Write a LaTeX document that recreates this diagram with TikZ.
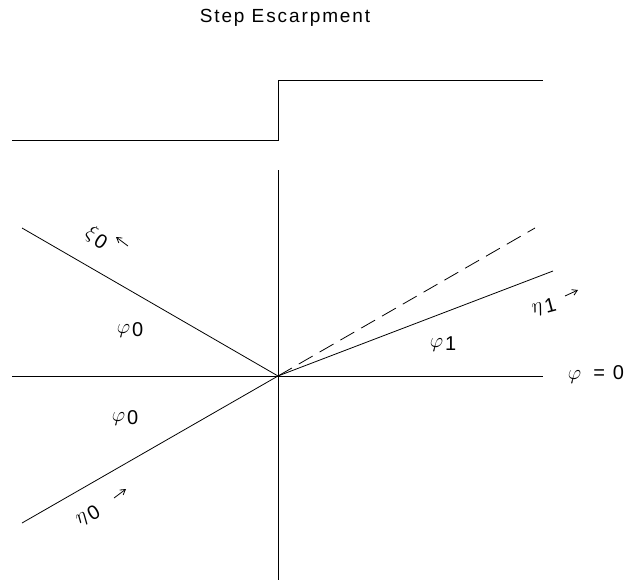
\documentclass[tikz,border=0pt]{standalone}
\usepackage{fontspec}
\usetikzlibrary{arrows.meta}
\setmainfont{Liberation Sans}
\newfontfamily\titlefont[LetterSpace=10]{Liberation Sans}
\newcommand{\gsub}[2]{$#1$\kern2pt\raisebox{-0.35ex}{#2}}
\begin{document}
\begin{tikzpicture}[x=1pt,y=-1pt,
  ln/.style={line width=0.8pt},
  lbl/.style={font=\fontsize{20}{20}\selectfont, inner sep=0pt},
  sm/.style={-{Straight Barb[length=5pt,width=6pt]}, line width=0.8pt}]
\useasboundingbox (0,0) rectangle (640,581);
% title
\node[font=\titlefont\fontsize{19}{19}\selectfont] (title) at (285,18) {Step Escarpment};
% step profile
\coordinate (s1) at (12,140);
\coordinate (s2) at (278,140);
\coordinate (s3) at (278,80);
\coordinate (s4) at (543,80);
\draw[ln] (s1) -- (s2) -- (s3) -- (s4);
% axes
\coordinate (O) at (278,376);
\coordinate (vt) at (278,170);
\coordinate (vb) at (278,580);
\coordinate (hl) at (12,376);
\coordinate (hr) at (543,376);
\draw[ln] (vt) -- (vb);
\draw[ln] (hl) -- (hr);
% rays
\coordinate (ul) at (22,228);
\coordinate (ll) at (22,523);
\coordinate (r1) at (553,271);
\coordinate (rd) at (535,228);
\draw[ln] (ul) -- (O);
\draw[ln] (ll) -- (O);
\draw[ln] (O) -- (r1);
\draw[ln, dash pattern=on 16pt off 8pt] (O) -- (rd);
% labels
\node[lbl] (phi0a) at (130,330) {\gsub{\varphi}{0}};
\node[lbl] (phi0b) at (125,418) {\gsub{\varphi}{0}};
\node[lbl] (phi1) at (443,344) {\gsub{\varphi}{1}};
\node[lbl] (phiz) at (596,375) {$\varphi$\hspace{12pt}=\hspace{8pt}0};
\node[lbl, rotate=-32] (xi0) at (97,237) {\gsub{\xi}{0}};
\node[lbl, rotate=15] (eta1) at (544,307) {\gsub{\eta}{1}};
\node[lbl, rotate=30] (eta0) at (88,516) {\gsub{\eta}{0}};
% small arrows
\coordinate (a1s) at (128,246); \coordinate (a1e) at (116,237);
\coordinate (a2s) at (565,296); \coordinate (a2e) at (578,290);
\coordinate (a3s) at (114,498); \coordinate (a3e) at (126,489);
\draw[sm] (a1s) -- (a1e);
\draw[sm] (a2s) -- (a2e);
\draw[sm] (a3s) -- (a3e);
\end{tikzpicture}
\end{document}
